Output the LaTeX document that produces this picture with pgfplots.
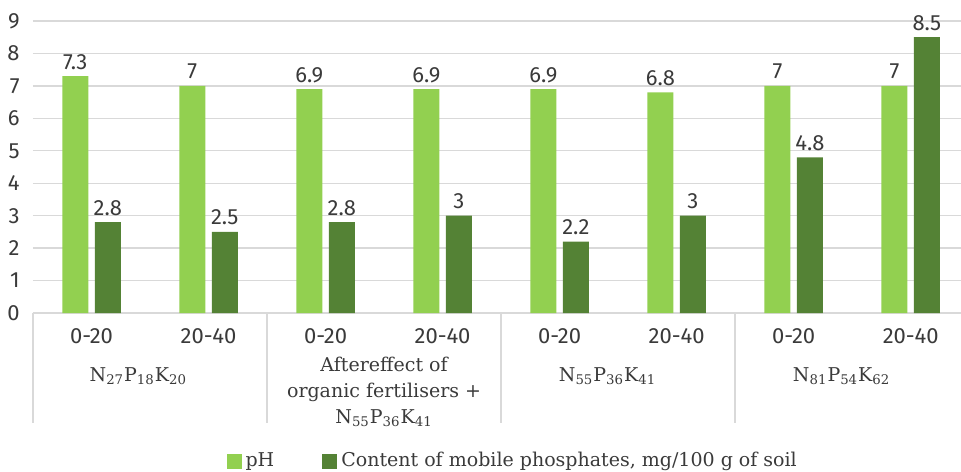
\documentclass[border=0pt]{standalone}
\usepackage{fontspec}
\setmainfont{DejaVu Serif}
\newfontfamily\numfont{Fira Sans}
\usepackage{pgfplots}
\pgfplotsset{compat=1.18}
\definecolor{phgreen}{HTML}{92D050}
\definecolor{pgreen}{HTML}{548235}
\definecolor{gridgray}{HTML}{D9D9D9}
\definecolor{labgray}{HTML}{3A3A3A}
\begin{document}
\begin{tikzpicture}
\begin{axis}[
  scale only axis, width=464pt, height=146pt,
  ymin=0, ymax=9, xmin=-0.5, xmax=7.43,
  ytick={0,...,9},
  xtick={0,...,7},
  xticklabels={0-20,20-40,0-20,20-40,0-20,20-40,0-20,20-40},
  ybar=3.25pt, bar width=13pt,
  axis line style={draw=none},
  ymajorgrids, grid style={gridgray, line width=0.7pt},
  major tick length=0pt,
  /pgf/number format/assume math mode=true,
  yticklabel style={font=\numfont\fontsize{11}{13}\selectfont, text=labgray, anchor=east, inner sep=0pt, xshift=-6.5pt},
  xticklabel style={font=\numfont\fontsize{11}{13}\selectfont, text=labgray, anchor=center, inner sep=0pt, yshift=-11.5pt},
  nodes near coords,
  nodes near coords style={font=\numfont\fontsize{11}{13}\selectfont, text=labgray, anchor=base, inner sep=0pt, yshift=3.5pt},
  every axis plot post/.append style={
    legend image code/.code={\fill[#1] (0pt,-3.75pt) rectangle (7.5pt,3.75pt);}},
  legend style={draw=none, fill=none, at={(0.518,-0.507)}, anchor=center, legend columns=2,
    font=\fontsize{9.5}{11}\selectfont, text=labgray,
    /tikz/every even column/.append style={column sep=22pt}},
  clip=false,
]
\addplot[fill=phgreen, draw=none] coordinates {(0,7.3) (1,7) (2,6.9) (3,6.9) (4,6.9) (5,6.8) (6,7) (7,7)};
\addlegendentry{pH}
\addplot[fill=pgreen, draw=none] coordinates {(0,2.8) (1,2.5) (2,2.8) (3,3) (4,2.2) (5,3) (6,4.8) (7,8.5)};
\addlegendentry{Content of mobile phosphates, mg/100 g of soil}

% group separators
\draw[gridgray, line width=0.7pt] (axis cs:-0.5,0) -- ([yshift=-55pt]axis cs:-0.5,0);
\draw[gridgray, line width=0.7pt] (axis cs:1.5,0) -- ([yshift=-55pt]axis cs:1.5,0);
\draw[gridgray, line width=0.7pt] (axis cs:3.5,0) -- ([yshift=-55pt]axis cs:3.5,0);
\draw[gridgray, line width=0.7pt] (axis cs:5.5,0) -- ([yshift=-55pt]axis cs:5.5,0);

% group labels
\node[font=\fontsize{9.5}{11}\selectfont, text=labgray] at ([yshift=-31.5pt]axis cs:0.4,0) {N\textsubscript{27}P\textsubscript{18}K\textsubscript{20}};
\node[font=\fontsize{9.5}{13}\selectfont, text=labgray, align=center] at ([yshift=-39.5pt]axis cs:2.5,0) {Aftereffect of\\organic fertilisers +\\N\textsubscript{55}P\textsubscript{36}K\textsubscript{41}};
\node[font=\fontsize{9.5}{11}\selectfont, text=labgray] at ([yshift=-31.5pt]axis cs:4.41,0) {N\textsubscript{55}P\textsubscript{36}K\textsubscript{41}};
\node[font=\fontsize{9.5}{11}\selectfont, text=labgray] at ([yshift=-31.5pt]axis cs:6.41,0) {N\textsubscript{81}P\textsubscript{54}K\textsubscript{62}};

\coordinate (o) at (rel axis cs:0,0);
\end{axis}
\pgfresetboundingbox
\path[use as bounding box] ([xshift=-16.5pt,yshift=-79pt]o) rectangle ([xshift=464pt,yshift=156.5pt]o);
\end{tikzpicture}
\end{document}
